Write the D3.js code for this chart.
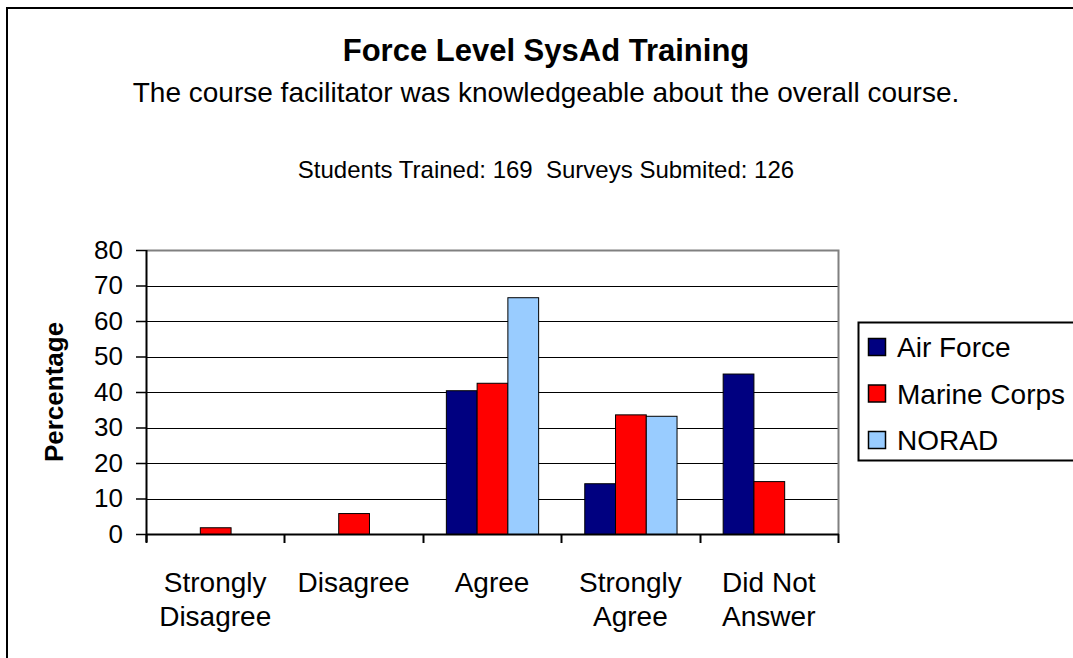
<!DOCTYPE html>
<html lang="en">
<head>
    <meta charset="utf-8">
    <title>Force Level SysAd Training</title>
    <style>
        body {
            margin: 0;
            background: #fff;
        }

        svg text {
            font-family: "Liberation Sans", Arial, sans-serif;
            fill: #000;
        }
    </style>
</head>
<body>
<svg class="chart"></svg>
<script src="https://d3js.org/d3.v7.min.js"></script>
<script>

  const width = 1073;
  const height = 658;

  const categories = ["Strongly Disagree", "Disagree", "Agree", "Strongly Agree", "Did Not Answer"];
  const categoryLines = [["Strongly", "Disagree"], ["Disagree"], ["Agree"], ["Strongly", "Agree"], ["Did Not", "Answer"]];
  const seriesNames = ["Air Force", "Marine Corps", "NORAD"];
  const seriesColors = ["#000080", "#ff0000", "#99ccff"];

  const airForce = [0, 0, 40.5, 14.3, 45.2];
  const marineCorps = [1.9, 5.9, 42.6, 33.7, 14.9];
  const norad = [0, 0, 66.7, 33.3, 0];

  const yTicks = [0, 10, 20, 30, 40, 50, 60, 70, 80];

  const seriesValues = [airForce, marineCorps, norad];

  // plot area
  const plot = {left: 146, top: 250, right: 838, bottom: 534};
  const titleX = 546;

  const svg = d3.select(".chart")
    .attr("width", width)
    .attr("height", height);

  // outer chart border (runs off the right and bottom of the picture)
  svg.append("rect")
    .attr("x", 7).attr("y", 8)
    .attr("width", width + 20).attr("height", height + 20)
    .attr("fill", "#fff")
    .attr("stroke", "#000")
    .attr("stroke-width", 2);

  const x0 = d3.scaleBand()
    .domain(categories)
    .range([plot.left, plot.right])
    .paddingInner(1 / 3)
    .paddingOuter(1 / 6);

  const x1 = d3.scaleBand()
    .domain(seriesNames)
    .range([0, x0.bandwidth()]);

  const y = d3.scaleLinear()
    .domain([0, 80])
    .range([plot.bottom, plot.top]);

  // titles
  svg.append("text")
    .attr("x", titleX).attr("y", 61)
    .attr("text-anchor", "middle")
    .style("font-size", "31px")
    .style("font-weight", "bold")
    .text("Force Level SysAd Training");

  svg.append("text")
    .attr("x", titleX).attr("y", 102)
    .attr("text-anchor", "middle")
    .style("font-size", "28px")
    .text("The course facilitator was knowledgeable about the overall course.");

  svg.append("text")
    .attr("x", titleX).attr("y", 178)
    .attr("text-anchor", "middle")
    .style("font-size", "24px")
    .style("white-space", "pre")
    .text("Students Trained: 169  Surveys Submited: 126");

  // gridlines
  svg.append("g")
    .selectAll("line")
    .data(yTicks.filter(d => d > 0 && d < 80))
    .join("line")
    .attr("x1", plot.left).attr("x2", plot.right)
    .attr("y1", d => Math.round(y(d)) + 0.5)
    .attr("y2", d => Math.round(y(d)) + 0.5)
    .attr("stroke", "#000");

  // plot area border top/right (grey)
  svg.append("path")
    .attr("d", `M${plot.left},${plot.top + 0.5}H${plot.right + 0.5}V${plot.bottom}`)
    .attr("fill", "none")
    .attr("stroke", "#808080")
    .attr("stroke-width", 2);

  // bars
  svg.append("g")
    .selectAll("g")
    .data(seriesNames)
    .join("g")
    .attr("fill", (d, i) => seriesColors[i])
    .selectAll("rect")
    .data((s, i) => categories.map((c, j) => ({cat: c, series: s, value: seriesValues[i][j]})))
    .join("rect")
    .filter(d => d.value > 0)
    .attr("x", d => x0(d.cat) + x1(d.series) + 0.5)
    .attr("y", d => y(d.value) + 0.5)
    .attr("width", x1.bandwidth())
    .attr("height", d => y(0) - y(d.value))
    .attr("stroke", "#000")
    .attr("stroke-width", 1);

  // y axis
  const yAxis = d3.axisLeft(y).tickValues(yTicks).tickSize(10).tickPadding(13);
  const gy = svg.append("g")
    .attr("transform", `translate(${plot.left},0)`)
    .call(yAxis);
  gy.select(".domain").attr("d", `M0.5,${plot.top}V${plot.bottom + 8}`).attr("stroke-width", 2);
  gy.selectAll(".tick line").attr("stroke-width", 1.5);
  gy.selectAll(".tick text")
    .style("font-size", "26px")
    .style("font-family", "'Liberation Sans', Arial, sans-serif");

  // x axis: ticks at category boundaries
  const step = x0.step();
  const boundaries = d3.range(categories.length + 1).map(i => plot.left + i * step);
  svg.append("line")
    .attr("x1", plot.left).attr("x2", plot.right + 1)
    .attr("y1", plot.bottom + 0.5).attr("y2", plot.bottom + 0.5)
    .attr("stroke", "#000").attr("stroke-width", 2);
  svg.append("g")
    .selectAll("line")
    .data(boundaries)
    .join("line")
    .attr("x1", d => Math.round(d) + 0.5).attr("x2", d => Math.round(d) + 0.5)
    .attr("y1", plot.bottom).attr("y2", plot.bottom + 9)
    .attr("stroke", "#000").attr("stroke-width", 2);

  const xLabels = svg.append("g")
    .selectAll("text")
    .data(categories)
    .join("text")
    .attr("text-anchor", "middle")
    .attr("transform", d => `translate(${x0(d) + x0.bandwidth() / 2},592)`)
    .style("font-size", "28px");
  xLabels.selectAll("tspan")
    .data((d, i) => categoryLines[i])
    .join("tspan")
    .attr("x", 0)
    .attr("dy", (d, i) => i === 0 ? 0 : 34)
    .text(d => d);

  // y axis title
  svg.append("text")
    .attr("transform", `translate(63,${(plot.top + plot.bottom) / 2}) rotate(-90)`)
    .attr("text-anchor", "middle")
    .style("font-size", "26px")
    .style("font-weight", "bold")
    .text("Percentage");

  // legend
  const legend = svg.append("g").attr("transform", "translate(858,322)");
  legend.append("rect")
    .attr("x", 0.5).attr("y", 0.5)
    .attr("width", 260).attr("height", 138)
    .attr("fill", "#fff")
    .attr("stroke", "#000")
    .attr("stroke-width", 2);
  const items = legend.selectAll("g.item")
    .data(seriesNames)
    .join("g")
    .attr("class", "item")
    .attr("transform", (d, i) => `translate(0,${25 + i * 46.5})`);
  items.append("rect")
    .attr("x", 10.5).attr("y", -8.5)
    .attr("width", 17).attr("height", 17)
    .attr("fill", (d, i) => seriesColors[i])
    .attr("stroke", "#000")
    .attr("stroke-width", 1.5);
  items.append("text")
    .attr("x", 39)
    .attr("dy", "0.36em")
    .style("font-size", "28px")
    .text(d => d);

</script>
</body>
</html>
